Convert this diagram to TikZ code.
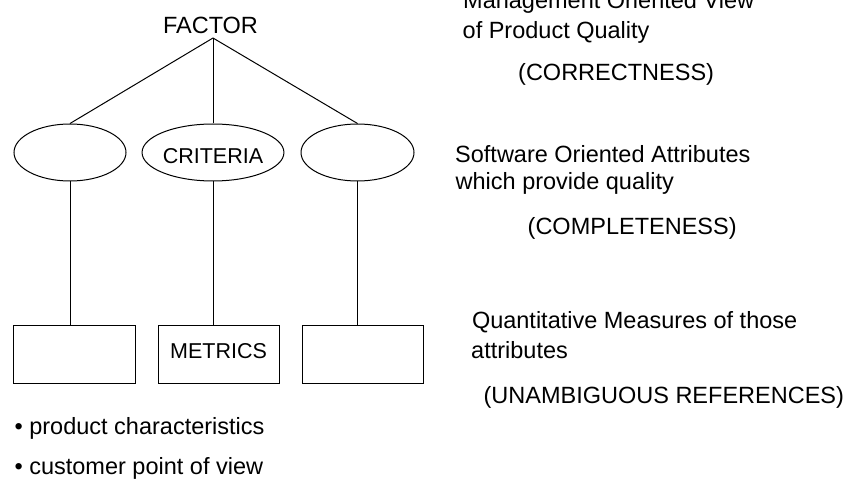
\documentclass[tikz,border=0pt]{standalone}
\usepackage{fontspec}
\setmainfont{Liberation Sans}
\usetikzlibrary{shapes.geometric}

\tikzset{
  txt/.style={anchor=base west, inner sep=0pt, font=\fontsize{23.5}{28}\selectfont},
  oval/.style={draw, ellipse, line width=1pt, inner sep=0pt, minimum height=57pt,
               font=\fontsize{21.5}{25}\selectfont, text height=22pt, text depth=0pt},
  metricbox/.style={draw, rectangle, line width=1pt, inner sep=0pt, minimum height=58pt,
                    font=\fontsize{21.5}{25}\selectfont, text height=15.5pt, text depth=6pt},
  link/.style={line width=1pt}
}

\begin{document}
\begin{tikzpicture}[x=1pt, y=-1pt]
  \useasboundingbox (0,0) rectangle (857,481);

  % factor at the top
  \node[anchor=base, inner sep=0pt, font=\fontsize{23.5}{28}\selectfont] (factor) at (210.5,34) {FACTOR};
  \coordinate (apex) at (213,38);

  % criteria level
  \node[oval, minimum width=112pt] (c1) at (70,152.5) {};
  \node[oval, minimum width=110pt] (c2) at (213,152.5) {CRITERIA};
  \node[oval, minimum width=113pt] (c3) at (357.5,152.5) {};

  % metrics level
  \node[metricbox, minimum width=122pt] (m1) at (74,354) {};
  \node[metricbox, minimum width=121pt] (m2) at (218.5,354) {METRICS};
  \node[metricbox, minimum width=121pt] (m3) at (362.5,354) {};

  % connectors
  \draw[link] (apex) -- (c1.north);
  \draw[link] (apex) -- (c2.north);
  \draw[link] (apex) -- (c3.north);
  \draw[link] (c1.south) -- (c1.south |- m1.north);
  \draw[link] (c2.south) -- (c2.south |- m2.north);
  \draw[link] (c3.south) -- (c3.south |- m3.north);

  % descriptions on the right
  \node[txt] (mg1) at (463,9) {Management Oriented View};
  \node[txt] (mg2) at (462.5,38.3) {of Product Quality};
  \node[txt] (corr) at (518,81) {(CORRECTNESS)};

  \node[txt] (sw1) at (455,162.7) {Software Oriented Attributes};
  \node[txt] (sw2) at (455.5,190) {which provide quality};
  \node[txt] (compl) at (527.5,235) {(COMPLETENESS)};

  \node[txt] (qm1) at (471.8,328.3) {Quantitative Measures of those};
  \node[txt] (qm2) at (471,358.3) {attributes};
  \node[txt] (unamb) at (483.4,403) {(UNAMBIGUOUS REFERENCES)};

  % bullet notes
  \node[txt] (b1) at (14.4,434.3) {• product characteristics};
  \node[txt] (b2) at (14.4,474.3) {• customer point of view};
\end{tikzpicture}
\end{document}
